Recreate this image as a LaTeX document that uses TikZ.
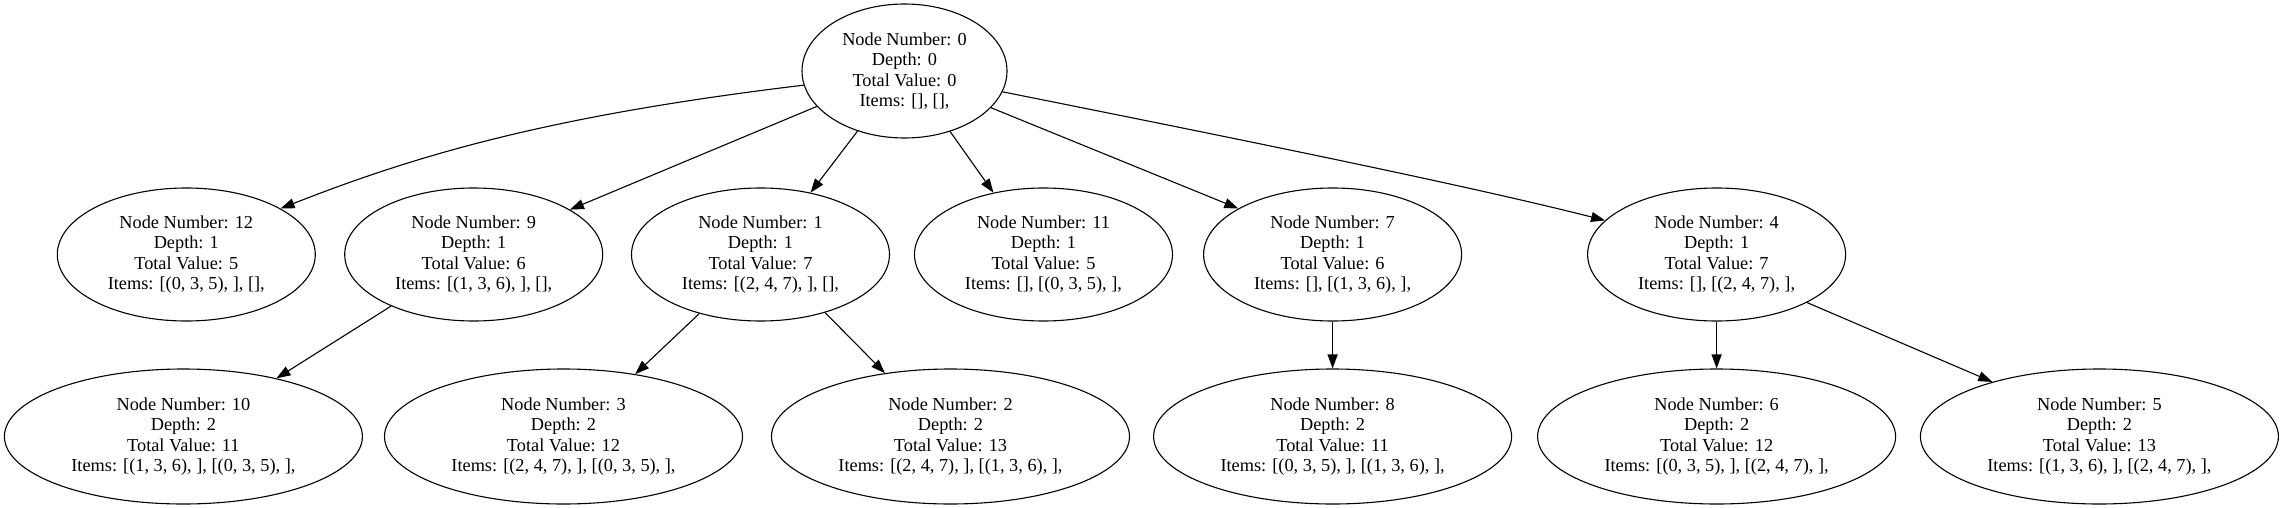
\documentclass[tikz,border=0pt]{standalone}
\usepackage{fontspec}
\setmainfont{Liberation Serif}
\usetikzlibrary{shapes.geometric,arrows.meta}
\tikzset{
  tn/.style={ellipse,draw,line width=1.1pt,inner sep=0pt,align=center,
    font=\fontsize{18.3}{20.5}\selectfont},
  lvA/.style={tn,minimum width=258pt,minimum height=133pt},
  lvB/.style={tn,minimum width=358pt,minimum height=135pt},
  edge/.style={line width=1.1pt,-{Triangle[length=14pt,width=10pt]}}
}
\begin{document}
\begin{tikzpicture}[x=1pt,y=-1pt]
\useasboundingbox (0,0) rectangle (2282,508);
\node[tn,minimum width=205pt,minimum height=134pt] (n0) at (904.5,71) {Node Number: 0\\Depth: 0\\Total Value: 0\\Items: [], [],};
\node[lvA] (n12) at (186.3,254.5) {Node Number: 12\\Depth: 1\\Total Value: 5\\Items: [(0, 3, 5), ], [],};
\node[lvA] (n9) at (473.7,254.5) {Node Number: 9\\Depth: 1\\Total Value: 6\\Items: [(1, 3, 6), ], [],};
\node[lvA] (n1) at (760.5,254.5) {Node Number: 1\\Depth: 1\\Total Value: 7\\Items: [(2, 4, 7), ], [],};
\node[lvA] (n11) at (1043.5,254.5) {Node Number: 11\\Depth: 1\\Total Value: 5\\Items: [], [(0, 3, 5), ],};
\node[lvA] (n7) at (1332.6,254.5) {Node Number: 7\\Depth: 1\\Total Value: 6\\Items: [], [(1, 3, 6), ],};
\node[lvA] (n4) at (1716.6,254.5) {Node Number: 4\\Depth: 1\\Total Value: 7\\Items: [], [(2, 4, 7), ],};
\node[lvB] (n10) at (183.4,436.5) {Node Number: 10\\Depth: 2\\Total Value: 11\\Items: [(1, 3, 6), ], [(0, 3, 5), ],};
\node[lvB] (n3) at (563.5,436.5) {Node Number: 3\\Depth: 2\\Total Value: 12\\Items: [(2, 4, 7), ], [(0, 3, 5), ],};
\node[lvB] (n2) at (950.5,436.5) {Node Number: 2\\Depth: 2\\Total Value: 13\\Items: [(2, 4, 7), ], [(1, 3, 6), ],};
\node[lvB] (n8) at (1332.6,436.5) {Node Number: 8\\Depth: 2\\Total Value: 11\\Items: [(0, 3, 5), ], [(1, 3, 6), ],};
\node[lvB] (n6) at (1716.6,436.5) {Node Number: 6\\Depth: 2\\Total Value: 12\\Items: [(0, 3, 5), ], [(2, 4, 7), ],};
\node[lvB] (n5) at (2099.4,436.5) {Node Number: 5\\Depth: 2\\Total Value: 13\\Items: [(1, 3, 6), ], [(2, 4, 7), ],};
\draw[edge] (n0.188.6) .. controls +(-250,30) and +(140,-55) .. (n12.26.1);
\draw[edge] (n0.202) -- (n9.25.6);
\draw[edge] (n0.232.6) -- (n1.51);
\draw[edge] (n0.307.4) -- (n11.129);
\draw[edge] (n0.337.6) -- (n7.154.6);
\draw[edge] (n0.348.1) .. controls +(200,40) and +(-150,-38) .. (n4.163);
\draw[edge] (n9.212.5) -- (n10.32.2);
\draw[edge] (n1.224.4) -- (n3.41.4);
\draw[edge] (n1.318.4) -- (n2.136.5);
\draw[edge] (n7.270) -- (n8.90);
\draw[edge] (n4.270) -- (n6.90);
\draw[edge] (n4.332) -- (n5.153.3);
\end{tikzpicture}
\end{document}
